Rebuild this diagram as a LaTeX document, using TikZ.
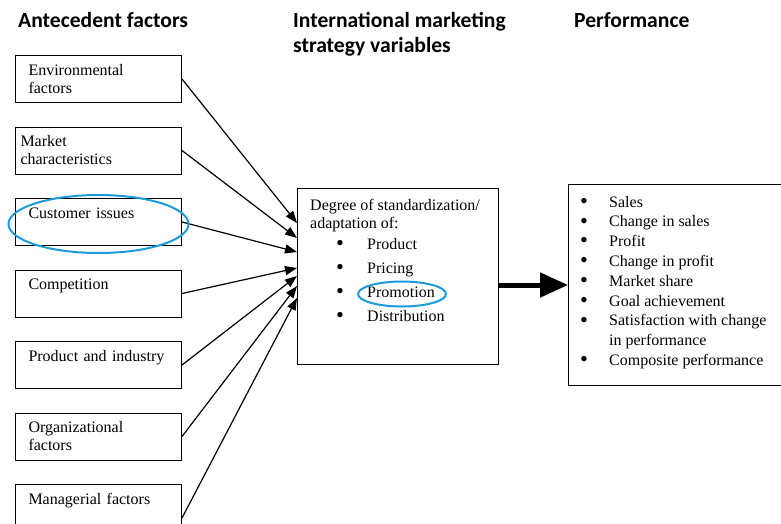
\documentclass[tikz,border=0pt]{standalone}
\usepackage{graphicx}
\usepackage{fontspec}
\setmainfont{Liberation Serif}
\newfontfamily\headfont{Carlito}
\usetikzlibrary{
  positioning,
  arrows.meta,
  }
\definecolor{ringblue}{RGB}{25,155,220}
\newcommand{\bigdot}{\raisebox{-1.2pt}{\scalebox{1.4}{\textbullet}}}

\begin{document}
\begin{tikzpicture}[x=1pt,y=-1pt,
  factor/.style={draw, line width=1pt, minimum width=166pt, minimum height=47pt,
    text width=140pt, inner xsep=13pt, align=left, font=\fontsize{16}{18}\selectfont},
  head/.style={anchor=base west, inner sep=0pt, align=left,
    font=\headfont\bfseries\fontsize{21.6}{25}\selectfont},
  feed/.style={line width=1.2pt, -{Triangle[length=12pt,width=9pt]}},
  bigarrow/.style={line width=5pt, -{Triangle[length=28pt,width=24pt]}},
  ring/.style={draw=ringblue, line width=2pt}]
  \clip (0,0) rectangle (781,523);

  % column headings
  \node[head] (h1) at (18,27) {Antecedent factors};
  \node[head] (h2) at (293,52) {International marketing\\strategy variables};
  \node[head] (h3) at (574,27) {Performance};

  % antecedent factors
  \node[factor, anchor=north west] (env) at (15,55) {Environmental\\factors};
  \node[factor, below=23.5pt of env, inner xsep=5pt, text width=156pt] (mkt) {Market\\characteristics};
  \node[factor, below=23.5pt of mkt] (cust) {Customer issues\\~};
  \node[factor, below=23.5pt of cust] (comp) {Competition\\~};
  \node[factor, below=23.5pt of comp] (prod) {Product and industry\\~};
  \node[factor, below=23.5pt of prod] (org) {Organizational\\factors};
  \node[factor, below=23.5pt of org] (mgr) {Managerial factors\\~};
  \coordinate (mgrout) at ([yshift=-10pt]mgr.east);

  % strategy variables
  \node[draw, line width=1pt, anchor=north west, minimum width=201pt, minimum height=176pt] (strat) at (297,188) {};
  \node[anchor=north west, inner sep=0pt, align=left, font=\fontsize{16}{18}\selectfont] (stratlist)
    at ([xshift=13pt,yshift=-11pt]strat.north west)
    {Degree of standardization/\\adaptation of:\\[3pt]
     \hspace*{26pt}\makebox[31pt][l]{\bigdot}Product\\[6pt]
     \hspace*{26pt}\makebox[31pt][l]{\bigdot}Pricing\\[6pt]
     \hspace*{26pt}\makebox[31pt][l]{\bigdot}Promotion\\[6pt]
     \hspace*{26pt}\makebox[31pt][l]{\bigdot}Distribution};

  % performance
  \node[draw, line width=1pt, anchor=north west, minimum width=227pt, minimum height=201pt] (perf) at (568,184) {};
  \node[anchor=north west, inner sep=0pt, font=\fontsize{16}{19.8}\selectfont] (perflist)
    at ([xshift=12pt,yshift=-9pt]perf.north west)
    {\begin{tabular}{@{}p{29pt}@{}l@{}}
     \bigdot & Sales\\
     \bigdot & Change in sales\\
     \bigdot & Profit\\
     \bigdot & Change in profit\\
     \bigdot & Market share\\
     \bigdot & Goal achievement\\
     \bigdot & Satisfaction with change\\
             & in performance\\
     \bigdot & Composite performance
     \end{tabular}};

  % connectors
  \foreach \from/\dy in {env.east/35, mkt.east/50, cust.east/64, comp.east/80, prod.east/88, org.east/98, mgrout/110}
    \draw[feed] (\from) -- ([yshift=-\dy pt]strat.north west);
  \draw[bigarrow] (strat.east |- perf.west) -- (perf.west);

  % highlights
  \draw[ring] ([yshift=-2pt]cust.center) ellipse [x radius=90, y radius=29];
  \draw[ring] (402,294) ellipse [x radius=44, y radius=12.5];
\end{tikzpicture}
\end{document}
